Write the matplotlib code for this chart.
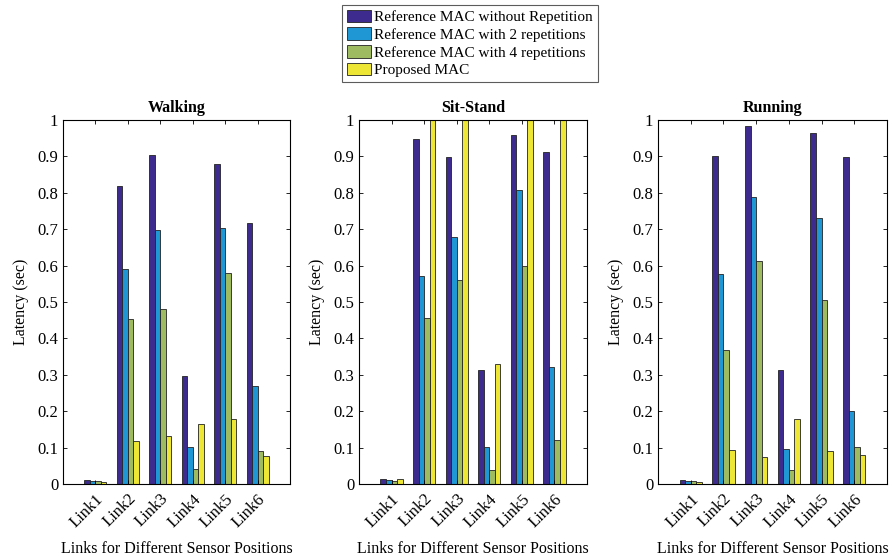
import matplotlib
matplotlib.use("Agg")
import matplotlib.pyplot as plt
import numpy as np

plt.rcParams['font.family'] = ['Liberation Serif', 'DejaVu Serif']

links = ["Link1", "Link2", "Link3", "Link4", "Link5", "Link6"]
series_names = ["Reference MAC without Repetition", "Reference MAC with 2 repetitions",
                "Reference MAC with 4 repetitions", "Proposed MAC"]
colors = ["#3d2c8d", "#1f97d4", "#9fbb62", "#ede634"]

# latency (sec) per link, one list per series
walk_norep = [0.011, 0.819, 0.903, 0.297, 0.878, 0.716]
walk_rep2 = [0.009, 0.591, 0.697, 0.101, 0.704, 0.269]
walk_rep4 = [0.007, 0.452, 0.481, 0.041, 0.580, 0.092]
walk_prop = [0.006, 0.118, 0.131, 0.166, 0.179, 0.077]

sit_norep = [0.013, 0.948, 0.897, 0.312, 0.960, 0.913]
sit_rep2 = [0.011, 0.572, 0.679, 0.101, 0.808, 0.322]
sit_rep4 = [0.008, 0.457, 0.560, 0.039, 0.599, 0.122]
sit_prop = [0.015, 1.0, 1.0, 0.331, 1.0, 1.0]

run_norep = [0.011, 0.900, 0.983, 0.314, 0.963, 0.898]
run_rep2 = [0.009, 0.576, 0.789, 0.095, 0.732, 0.200]
run_rep4 = [0.008, 0.368, 0.612, 0.038, 0.505, 0.101]
run_prop = [0.006, 0.094, 0.073, 0.179, 0.092, 0.080]

panels = [
    ("Walking", [walk_norep, walk_rep2, walk_rep4, walk_prop]),
    ("Sit-Stand", [sit_norep, sit_rep2, sit_rep4, sit_prop]),
    ("Running", [run_norep, run_rep2, run_rep4, run_prop]),
]

W, H = 892, 559
fig = plt.figure(figsize=(W / 100, H / 100), dpi=100)

# axes boxes in pixels: left, right, top, bottom
boxes = [(63, 290, 120, 484), (359, 587, 120, 484), (658, 887, 120, 484)]

x = np.arange(1, len(links) + 1)
bw = 0.17
handles = []
for (title, data), (l, r, t, b) in zip(panels, boxes):
    ax = fig.add_axes([l / W, 1 - b / H, (r - l) / W, (b - t) / H])
    for i, vals in enumerate(data):
        bars = ax.bar(x + (i - 1.5) * bw, vals, bw, color=colors[i],
                      edgecolor="#222222", linewidth=0.6, label=series_names[i])
        if title == "Walking":
            handles.append(bars)
    ax.set_xlim(0, 7)
    ax.set_ylim(0, 1)
    ax.set_yticks(np.arange(0, 1.01, 0.1))
    ax.set_yticklabels(["0", "0.1", "0.2", "0.3", "0.4", "0.5", "0.6", "0.7", "0.8", "0.9", "1"])
    ax.set_xticks(x)
    ax.set_xticklabels(links, rotation=45, ha="right", va="top", rotation_mode="anchor")
    ax.tick_params(direction="in", top=True, right=True, labelsize=12, length=3, width=0.6)
    ax.tick_params(axis="x", pad=5)
    for s in ax.spines.values():
        s.set_linewidth(0.8)
    ax.set_title(title, fontweight="bold", fontsize=11.5, pad=6)
    ax.set_ylabel("Latency (sec)", fontsize=11.5, labelpad=6)
    ax.set_xlabel("Links for Different Sensor Positions", fontsize=11.5, labelpad=8)

leg = fig.legend(handles=handles, labels=series_names, loc="upper center",
                 bbox_to_anchor=(470 / W, 1 - 5 / H), fontsize=11, frameon=True,
                 fancybox=False, edgecolor="#333333", handlelength=1.6, handleheight=0.9,
                 handletextpad=0.2, labelspacing=0.2, borderpad=0.3, borderaxespad=0)
leg.get_frame().set_linewidth(0.8)

fig.savefig("out.png", dpi=100)
